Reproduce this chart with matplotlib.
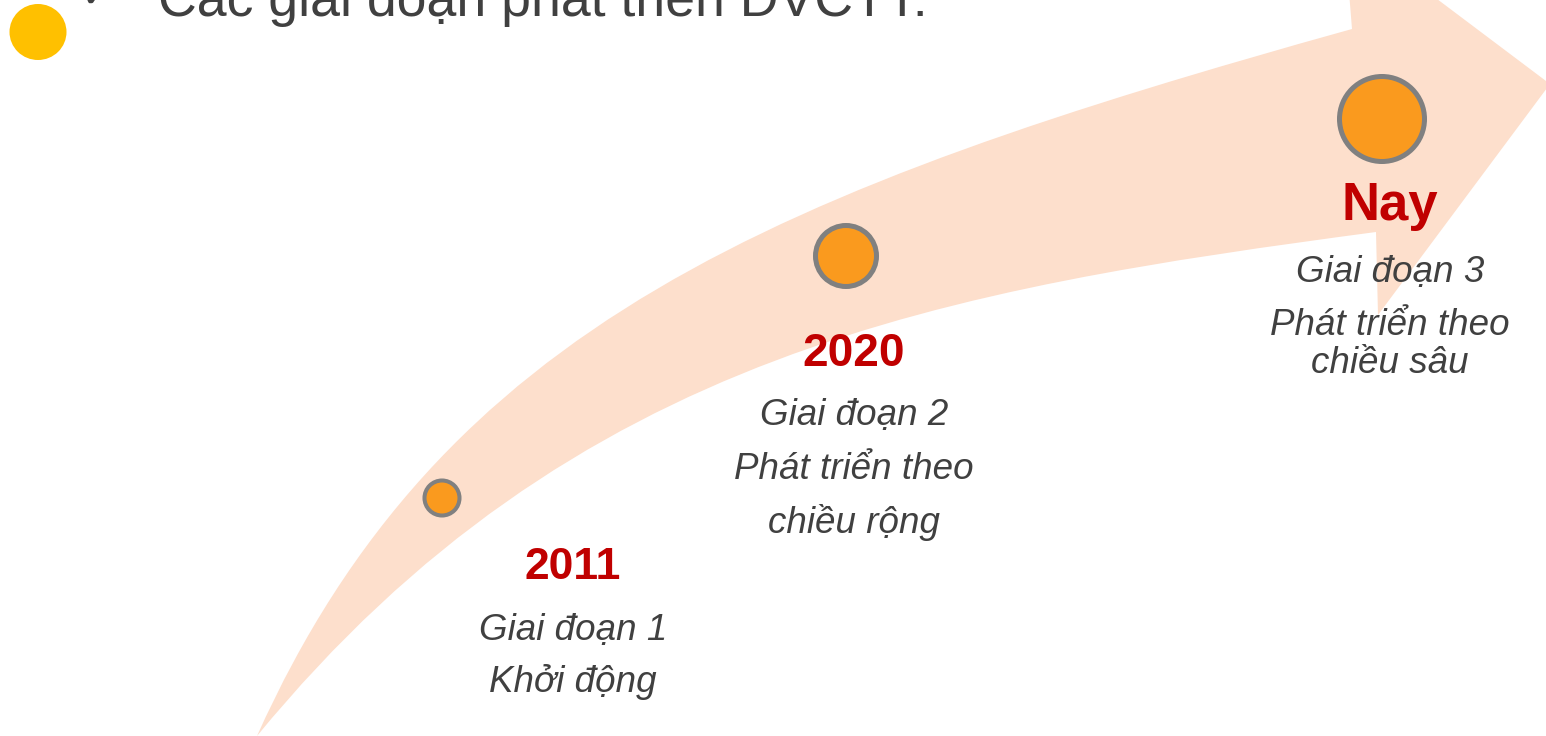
import matplotlib
matplotlib.use('Agg')
import matplotlib.pyplot as plt
from matplotlib.path import Path
from matplotlib.patches import PathPatch, Circle, Ellipse

plt.rcParams['font.family'] = ['Liberation Sans', 'DejaVu Sans']

# Content of the timeline
title = 'Các giai đoạn phát triển DVCTT:'
years = ['2011', '2020', 'Nay']
stages = ['Giai đoạn 1', 'Giai đoạn 2', 'Giai đoạn 3']
details = [['Khởi động'],
           ['Phát triển theo', 'chiều rộng'],
           ['Phát triển theo', 'chiều sâu']]

# Layout (pixel space, y downward)
dot_x = [442, 846, 1382]
dot_y = [498, 256, 119]
dot_r = [17.5, 30.5, 42.5]
dot_lw = [2.9, 3.6, 3.6]
text_x = [573, 854, 1390]
year_base = [579, 366, 220]
year_size = [32, 33, 38]
stage_base = [640, 425, 282]
detail_base = [[692], [479, 533], [335, 373]]

W, H = 1546, 736
fig = plt.figure(figsize=(W / 100, H / 100), dpi=100)
ax = fig.add_axes([0, 0, 1, 1])
ax.set_xlim(0, W)
ax.set_ylim(H, 0)
ax.axis('off')

# curved arrow band
peach = '#FDDFCC'
verts = [(257, 736),
         (441, 326), (774, 190), (1352, 29),   # upper edge
         (1344, -71), (1550, 84), (1378, 315), (1376, 232),
         (949, 289), (574, 350), (257, 736)]   # lower edge back
codes = [Path.MOVETO,
         Path.CURVE4, Path.CURVE4, Path.CURVE4,
         Path.LINETO, Path.LINETO, Path.LINETO, Path.LINETO,
         Path.CURVE4, Path.CURVE4, Path.CURVE4]
ax.add_patch(PathPatch(Path(verts, codes), facecolor=peach, edgecolor='none', zorder=1))

# header bullet + title
ax.add_patch(Ellipse((38, 32), 57, 56, facecolor='#FFC000', edgecolor='none', zorder=2))
ax.text(99, 9, '✓', fontsize=34, color='#404040', ha='center', va='baseline',
        family=['DejaVu Sans'], zorder=3)
ax.text(158, 16, title, fontsize=38.6, color='#404040', ha='left', va='baseline', zorder=3)

# stage markers and labels
for i in range(len(years)):
    ax.add_patch(Circle((dot_x[i], dot_y[i]), dot_r[i], facecolor='#FA9A1E',
                        edgecolor='#808080', linewidth=dot_lw[i], zorder=4))
    ax.text(text_x[i], year_base[i], years[i], fontsize=year_size[i], fontweight='bold',
            color='#C00000', ha='center', va='baseline', zorder=5)
    ax.text(text_x[i], stage_base[i], stages[i], fontsize=26.5, style='italic',
            color='#404040', ha='center', va='baseline', zorder=5)
    for line, yb in zip(details[i], detail_base[i]):
        ax.text(text_x[i], yb, line, fontsize=26.5, style='italic',
                color='#404040', ha='center', va='baseline', zorder=5)

fig.savefig('out.png', dpi=100)
